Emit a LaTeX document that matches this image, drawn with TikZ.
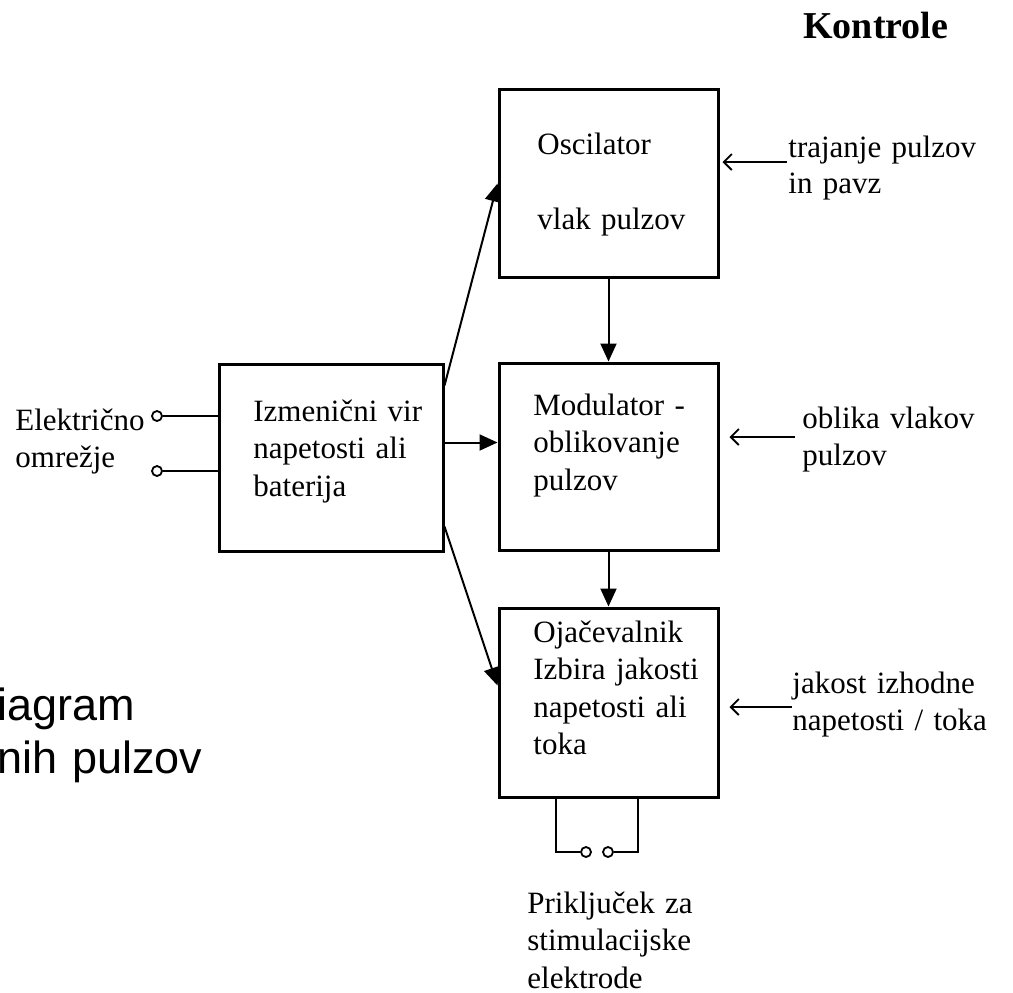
\documentclass[tikz,border=0pt]{standalone}
\usepackage{fontspec}
\setmainfont{Liberation Serif}
\newfontfamily\arialfont{Liberation Sans}
\usetikzlibrary{arrows.meta,positioning}

\tikzset{
  blok/.style={draw, line width=1.5pt, inner sep=0pt, minimum width=109.5pt, minimum height=94pt},
  opis/.style={inner sep=0pt, anchor=base west, text width=250pt, align=left, font=\fontsize{15.5}{18.75}\selectfont},
  puscica/.style={line width=1pt, -{Triangle[length=9pt,width=8pt]}},
  kontrola/.style={line width=0.9pt, -{Straight Barb[length=4pt,width=8pt]}},
  zica/.style={line width=1pt},
  sponka/.style={draw, circle, line width=0.9pt, inner sep=0pt, minimum size=5pt},
}

\begin{document}
\begin{tikzpicture}[x=0.5pt,y=-0.5pt]
  \useasboundingbox (0,0) rectangle (1013,992);
  \node[blok] (osc) at (608.5,183.5) {};
  \node[blok, minimum height=93.5pt] (mod) at (608.5,456.5) {};
  \node[blok, minimum height=94.5pt] (ojac) at (608.5,702.5) {};
  \node[blok, minimum width=112pt, minimum height=93.5pt] (izvor) at (331,457.5) {};

  \node[opis] (tosc) at (537,154) {Oscilator\\[18.75pt]vlak pulzov};
  \node[opis] (tmod) at (533,415) {Modulator -\\oblikovanje\\pulzov};
  \node[opis] (tojac) at (533,642) {Ojačevalnik\\Izbira jakosti\\napetosti ali\\toka};
  \node[opis] (tizvor) at (253,421) {Izmenični vir\\napetosti ali\\baterija};
  \node[opis] (omrezje) at (15,430) {Električno\\omrežje};
  \node[opis, font=\fontsize{15.5}{18}\selectfont] (trajanje) at (788,157) {trajanje pulzov\\in pavz};
  \node[opis] (oblika) at (802,428) {oblika vlakov\\pulzov};
  \node[opis] (jakost) at (792,693) {jakost izhodne\\napetosti / toka};
  \node[opis] (prikljucek) at (527,913) {Priključek za\\stimulacijske\\elektrode};
  \node[opis, font=\fontsize{19}{22}\selectfont\bfseries] (kontrole) at (803,38) {Kontrole};
  \node[opis, font=\arialfont\fontsize{22.5}{26.5}\selectfont] (naslov) at (-3,720) {iagram\\nih pulzov};

  % glavne povezave
  \draw[puscica] (osc) -- (mod);
  \draw[puscica] (mod) -- (ojac);
  \coordinate (h1) at ([yshift=7.5pt]izvor.east);
  \draw[puscica] (h1) -- (h1 -| mod.west);
  \draw[puscica] ([yshift=-11.5pt]izvor.north east) -- (osc.west);
  \draw[puscica] ([yshift=13pt]izvor.south east) -- ([yshift=8.5pt]ojac.west);

  % kontrole
  \coordinate (k1) at (787,162);
  \coordinate (k2) at (795,437);
  \coordinate (k3) at (792,707);
  \draw[kontrola, shorten >=1.5pt] (k1) -- (osc.east |- k1);
  \draw[kontrola, shorten >=5pt] (k2) -- (mod.east |- k2);
  \draw[kontrola, shorten >=5pt] (k3) -- (ojac.east |- k3);

  % sponke
  \node[sponka] (e1) at (157,416) {};
  \node[sponka] (e2) at (157,471) {};
  \draw[zica] (e1) -- (e1 -| izvor.west);
  \draw[zica] (e2) -- (e2 -| izvor.west);
  \node[sponka] (s1) at (586,852) {};
  \node[sponka] (s2) at (608,852) {};
  \coordinate (a1) at (556,852);
  \coordinate (a2) at (638,852);
  \draw[zica] (a1 |- ojac.south) -- (a1) -- (s1);
  \draw[zica] (a2 |- ojac.south) -- (a2) -- (s2);
\end{tikzpicture}
\end{document}
